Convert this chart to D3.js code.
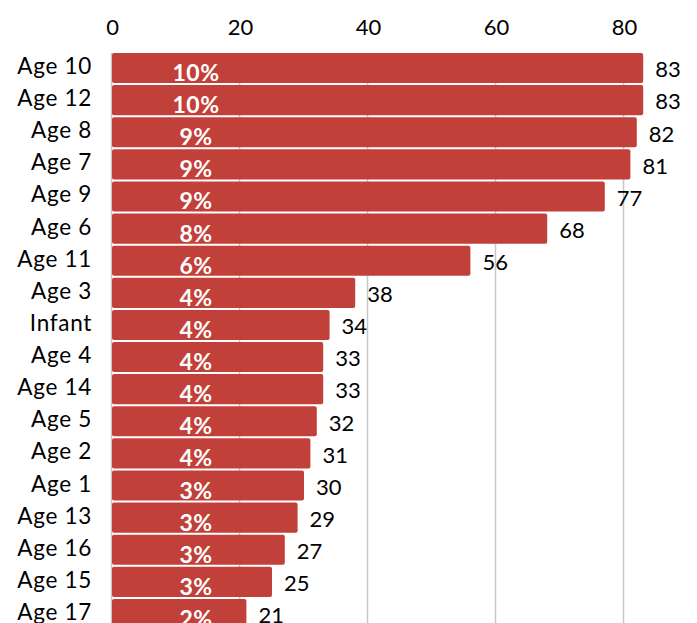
<!DOCTYPE html>
<html>
<head>
<meta charset="utf-8">
<script src="https://cdn.jsdelivr.net/npm/d3@7"></script>
<style>
  html, body { margin: 0; padding: 0; background: #fff; }
  svg { display: block; font-family: Lato, "Open Sans", sans-serif; }
</style>
</head>
<body>
<svg id="chart" width="697" height="623"></svg>
<script>
// Categories, counts and share labels, sorted by count
const categories = ["Age 10", "Age 12", "Age 8", "Age 7", "Age 9", "Age 6", "Age 11", "Age 3", "Infant",
  "Age 4", "Age 14", "Age 5", "Age 2", "Age 1", "Age 13", "Age 16", "Age 15", "Age 17"];
const counts = [83, 83, 82, 81, 77, 68, 56, 38, 34, 33, 33, 32, 31, 30, 29, 27, 25, 21];
const shares = ["10%", "10%", "9%", "9%", "9%", "8%", "6%", "4%", "4%", "4%", "4%", "4%", "4%", "3%", "3%", "3%", "3%", "2%"];
const xTicks = [0, 20, 40, 60, 80];

const svg = d3.select("#chart");
const margin = { top: 53, left: 112 };
const step = 32;

const x = d3.scaleLinear().domain([0, 80]).range([margin.left, margin.left + 512]);
const y = d3.scaleBand()
  .domain(categories)
  .range([margin.top, margin.top + step * categories.length])
  .paddingInner(2 / 32)
  .paddingOuter(0);
const mid = d => y(d) + y.bandwidth() / 2;

// Vertical gridlines behind the bars
svg.append("g")
  .selectAll("line")
  .data(xTicks)
  .join("line")
  .attr("x1", d => x(d) - 0.5)
  .attr("x2", d => x(d) - 0.5)
  .attr("y1", margin.top)
  .attr("y2", 623)
  .attr("stroke", "#c8c8c8")
  .attr("stroke-width", 1.5);

// Top axis labels
const xAxis = d3.axisTop(x).tickValues(xTicks).tickSize(0).tickPadding(0);
const gx = svg.append("g").attr("transform", "translate(0,35)").call(xAxis);
gx.select(".domain").remove();
gx.selectAll("text")
  .attr("dy", null)
  .attr("font-size", 22)
  .attr("fill", "#000")
  .attr("font-family", "Lato, sans-serif");

// Category labels on the left
const yAxis = d3.axisLeft(y).tickSize(0).tickPadding(0);
const gy = svg.append("g").attr("transform", "translate(92,0)").call(yAxis);
gy.select(".domain").remove();
gy.selectAll("text")
  .attr("dy", null)
  .attr("y", 6)
  .attr("font-size", 22.5)
  .attr("fill", "#000")
  .attr("font-family", "Lato, sans-serif")
  .style("letter-spacing", "0.7px");

const rows = categories.map((c, i) => ({ cat: c, value: counts[i], share: shares[i] }));

// Bars
svg.append("g")
  .selectAll("rect")
  .data(rows)
  .join("rect")
  .attr("x", x(0))
  .attr("y", d => y(d.cat))
  .attr("width", d => x(d.value) - x(0))
  .attr("height", y.bandwidth())
  .attr("rx", 2)
  .attr("fill", "#c1413a");

// Share labels inside the bars
svg.append("g")
  .selectAll("text")
  .data(rows)
  .join("text")
  .attr("x", 196)
  .attr("y", d => mid(d.cat) + 13)
  .attr("text-anchor", "middle")
  .attr("font-size", 23)
  .attr("font-weight", "bold")
  .attr("fill", "#fff")
  .style("letter-spacing", "0.5px")
  .text(d => d.share);

// Count labels at the bar ends
svg.append("g")
  .selectAll("text")
  .data(rows)
  .join("text")
  .attr("x", d => x(d.value) + 12)
  .attr("y", d => mid(d.cat) + 9.3)
  .attr("font-size", 22)
  .attr("fill", "#000")
  .text(d => d.value);
</script>
</body>
</html>
